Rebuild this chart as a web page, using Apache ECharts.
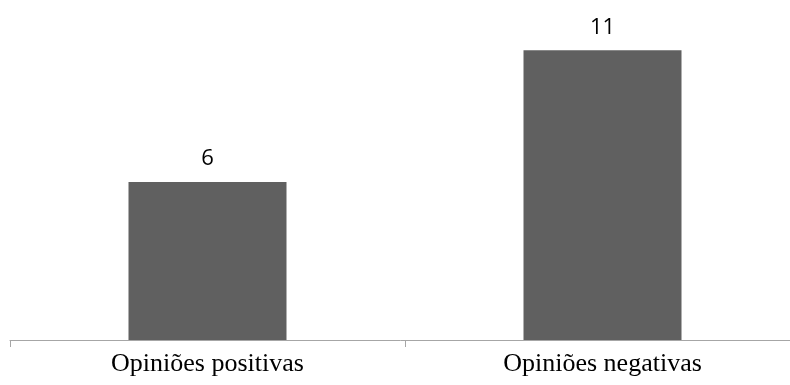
<!DOCTYPE html>
<html><head><meta charset="utf-8">
<script src="https://cdn.jsdelivr.net/npm/echarts@6/dist/echarts.min.js"></script>
<style>html,body{margin:0;padding:0;background:#fff}#c{width:790px;height:385px}</style>
</head><body><div id="c"></div>
<script>
const categories = ["Opiniões positivas", "Opiniões negativas"];
const values = [6, 11];
const chart = echarts.init(document.getElementById('c'), null, {renderer: 'canvas'});
chart.setOption({
  animation: false,
  grid: {left: 10, top: 24, width: 790, height: 316, containLabel: false, outerBoundsMode: 'none'},
  xAxis: {
    type: 'category', data: categories,
    axisLine: {lineStyle: {color: '#a6a6a6', width: 1}},
    axisTick: {show: true, length: 7, lineStyle: {color: '#a6a6a6'}},
    axisLabel: {fontFamily: 'Liberation Serif', fontSize: 26, color: '#000', margin: 11}
  },
  yAxis: {type: 'value', min: 0, max: 12, show: false, splitLine: {show: false}},
  series: [{
    type: 'bar', data: values, barWidth: '40%',
    itemStyle: {color: '#606060'},
    label: {show: true, position: 'top', distance: 12, fontFamily: 'Open Sans', fontSize: 22, color: '#000'}
  }]
});
</script></body></html>
